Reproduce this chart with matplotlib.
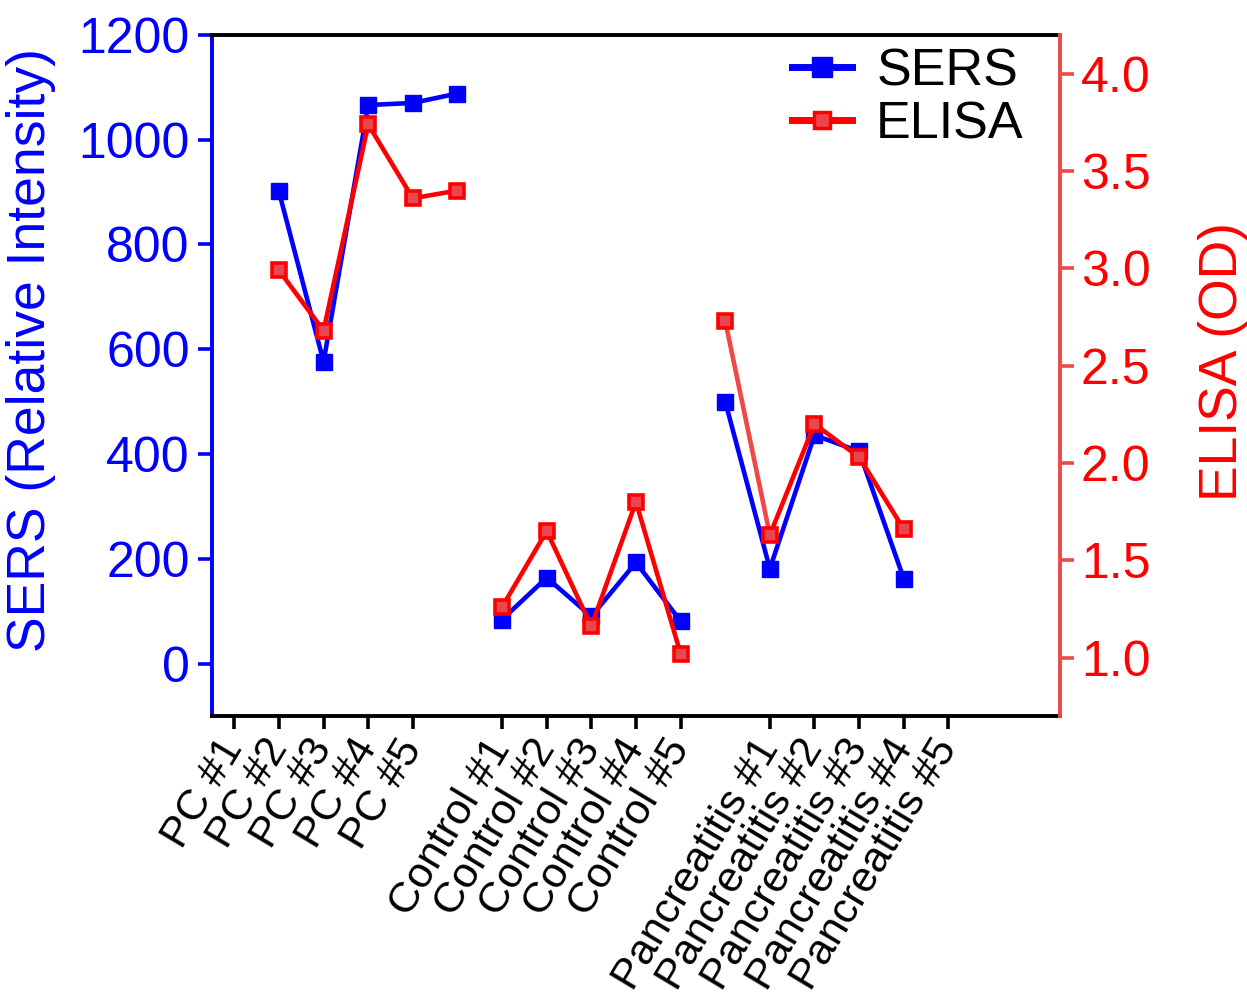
import matplotlib
matplotlib.use("Agg")
import matplotlib.pyplot as plt
from matplotlib.lines import Line2D

plt.rcParams['font.family'] = ['Liberation Sans', 'DejaVu Sans']

# Sample labels and where they sit on the category axis
sample_labels = ['PC #1', 'PC #2', 'PC #3', 'PC #4', 'PC #5',
                 'Control #1', 'Control #2', 'Control #3', 'Control #4', 'Control #5',
                 'Pancreatitis #1', 'Pancreatitis #2', 'Pancreatitis #3',
                 'Pancreatitis #4', 'Pancreatitis #5']
label_slots = [0, 1, 2, 3, 4, 6, 7, 8, 9, 10, 12, 13, 14, 15, 16]

# Measurement slots for each group
pc_slots = [1, 2, 3, 4, 5]
control_slots = [6, 7, 8, 9, 10]
panc_slots = [11, 12, 13, 14, 15]

# SERS relative intensity
sers_pc = [901, 576, 1066, 1070, 1088]
sers_control = [84, 164, 90, 193, 81]
sers_panc = [500, 181, 436, 405, 162]

# ELISA optical density
elisa_pc = [2.99, 2.68, 3.74, 3.36, 3.40]
elisa_control = [1.26, 1.65, 1.16, 1.80, 1.02]
elisa_panc = [2.73, 1.63, 2.20, 2.03, 1.66]

BLUE = '#0000ff'
RED = '#ff0000'
SOFT_RED = '#ee4848'
FS = 36
LABEL_FS = 38.5

fig = plt.figure(figsize=(12.47, 9.98), dpi=100)
ax = fig.add_axes([0.170, 0.2826, 0.680, 0.6825])
ax2 = ax.twinx()

sers_style = dict(color=BLUE, lw=3.3, marker='s', ms=12.2, mfc=BLUE, mec=BLUE)
elisa_style = dict(color=RED, lw=3.3, marker='s', ms=10.2, mfc='#e8474f', mec=RED, mew=2.6)

for xs, ys in [(pc_slots, sers_pc), (control_slots, sers_control), (panc_slots, sers_panc)]:
    ax.plot(xs, ys, **sers_style)

ax2.plot(pc_slots, elisa_pc, **elisa_style)
ax2.plot(control_slots, elisa_control, **elisa_style)
# first pancreatitis segment is drawn in a softer red
ax2.plot(panc_slots[:2], elisa_panc[:2], color=SOFT_RED, lw=3.3, zorder=2)
ax2.plot(panc_slots[1:], elisa_panc[1:], color=RED, lw=3.3, zorder=2)
ax2.plot(panc_slots, elisa_panc, ls='none', marker='s', ms=10.2, mfc='#e8474f',
         mec=RED, mew=2.6, zorder=3)

ax.set_xlim(-0.5, 18.5)
ax.set_ylim(-100, 1200)
ax2.set_ylim(0.7, 4.2)

ax.set_yticks([0, 200, 400, 600, 800, 1000, 1200])
elisa_ticks = [1.0, 1.5, 2.0, 2.5, 3.0, 3.5, 4.0]
ax2.set_yticks(elisa_ticks)
ax2.set_yticklabels([f'{v:.1f}' for v in elisa_ticks])

ax.set_xticks(label_slots)
ax.set_xticklabels(sample_labels, rotation=59, ha='right', va='center',
                   rotation_mode='anchor', fontsize=31)

ax.tick_params(axis='x', direction='out', length=9, width=2.6, colors='black', pad=10)
ax.tick_params(axis='y', direction='out', length=10, width=2.6, colors=BLUE,
               labelsize=FS, pad=6)
ax2.tick_params(axis='y', direction='out', length=10, width=2.6, colors=SOFT_RED,
                labelcolor=RED, labelsize=FS, pad=5)

for s in ['top', 'bottom']:
    ax.spines[s].set_linewidth(2.8)
    ax.spines[s].set_color('black')
ax.spines['left'].set_linewidth(2.8)
ax.spines['left'].set_color(BLUE)
ax.spines['right'].set_visible(False)
for s in ['top', 'bottom', 'left']:
    ax2.spines[s].set_visible(False)
ax2.spines['right'].set_linewidth(2.8)
ax2.spines['right'].set_color(SOFT_RED)

ax.set_ylabel('SERS (Relative Intensity)', color=BLUE, fontsize=LABEL_FS,
              labelpad=16, y=0.537)
ax2.set_ylabel('ELISA (OD)', color=RED, fontsize=LABEL_FS, labelpad=34, y=0.521)

handles = [Line2D([], [], color=BLUE, lw=5, marker='s', ms=14, mfc=BLUE, mec=BLUE),
           Line2D([], [], color=RED, lw=5, marker='s', ms=12, mfc='#e8474f',
                  mec=RED, mew=2.5)]
ax2.legend(handles, ['SERS', 'ELISA'], loc='upper right', frameon=False,
           fontsize=37.5, handlelength=1.15, handletextpad=0.47, labelspacing=0.07,
           borderaxespad=0.0, bbox_to_anchor=(0.982, 1.012))

fig.savefig('out.png', dpi=100)
